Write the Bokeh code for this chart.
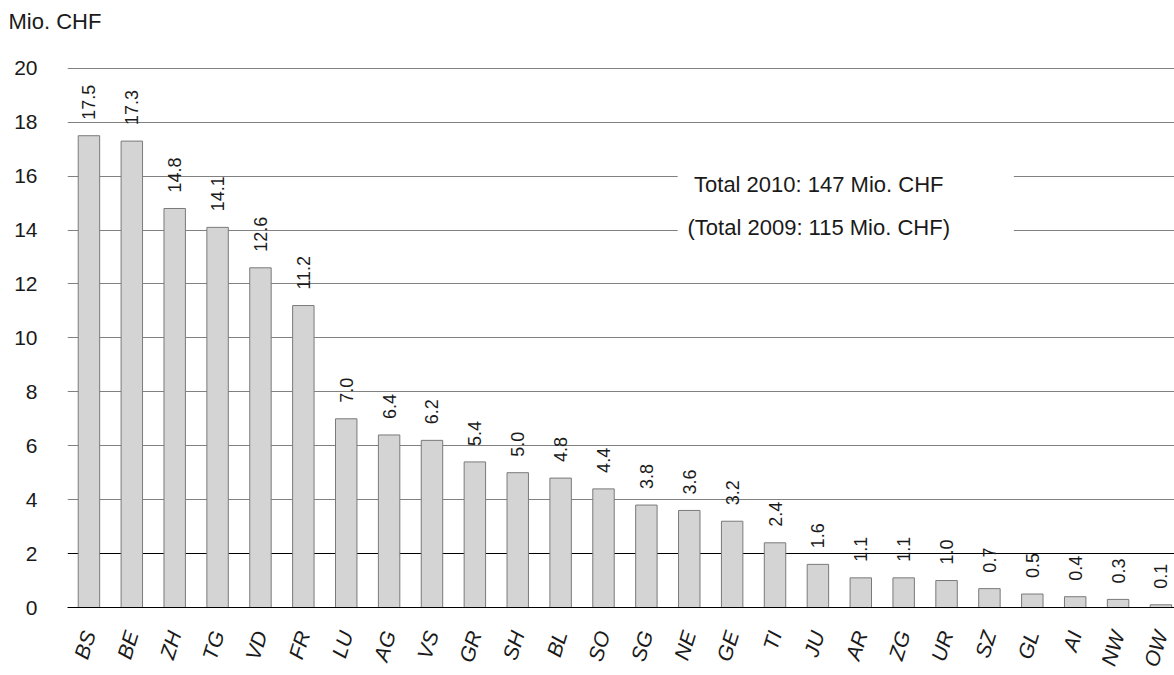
import math
from bokeh.plotting import figure
from bokeh.models import (ColumnDataSource, Range1d, FixedTicker, Grid, Label,
                          BoxAnnotation, LabelSet, Title)
from bokeh.core.properties import value
from bokeh.embed import file_html
from bokeh.resources import INLINE

cantons = ["BS", "BE", "ZH", "TG", "VD", "FR", "LU", "AG", "VS", "GR", "SH", "BL", "SO",
           "SG", "NE", "GE", "TI", "JU", "AR", "ZG", "UR", "SZ", "GL", "AI", "NW", "OW"]
values = [17.5, 17.3, 14.8, 14.1, 12.6, 11.2, 7.0, 6.4, 6.2, 5.4, 5.0, 4.8, 4.4,
          3.8, 3.6, 3.2, 2.4, 1.6, 1.1, 1.1, 1.0, 0.7, 0.5, 0.4, 0.3, 0.1]
y_ticks = [0, 2, 4, 6, 8, 10, 12, 14, 16, 18, 20]
unit_label = "Mio. CHF"
note_lines = ["Total 2010: 147 Mio. CHF", "(Total 2009: 115 Mio. CHF)"]

FONT = "Liberation Sans"
TXT = "#1a1a1a"

xs = list(range(len(cantons)))
src = ColumnDataSource(dict(x=xs, top=values, label=[f"{v:.1f}" for v in values]))

p = figure(width=1174, height=675, output_backend="svg", toolbar_location=None,
           x_range=Range1d(-0.5, 25.316), y_range=Range1d(0, 20.03),
           min_border_left=67, min_border_right=0, min_border_top=67,
           min_border_bottom=67)
p.outline_line_color = None
p.background_fill_color = "white"
p.border_fill_color = "white"

# unit label as (outermost) title; a blank spacer title sits between it and the frame
p.title.text = unit_label
p.title.align = "left"
p.title.offset = -59
p.title.text_font = FONT
p.title.text_font_style = "normal"
p.title.text_font_size = "22px"
p.title.text_color = TXT
p.add_layout(Title(text=" ", text_font_size="16px"), "above")

# grids
p.xgrid.visible = False
p.ygrid.ticker = FixedTicker(ticks=[t for t in y_ticks if t >= 4])
p.ygrid.grid_line_color = "#808080"
p.ygrid.grid_line_width = 1
g2 = Grid(dimension=1, ticker=FixedTicker(ticks=[2]), grid_line_color="black",
          grid_line_width=1)
p.add_layout(g2)

# y axis
p.yaxis.ticker = FixedTicker(ticks=y_ticks)
p.yaxis.axis_line_color = None
p.yaxis.major_tick_line_color = None
p.yaxis.minor_tick_line_color = None
p.yaxis.major_tick_in = 0
p.yaxis.major_tick_out = 0
p.yaxis.major_label_standoff = 30
p.yaxis.major_label_text_font = FONT
p.yaxis.major_label_text_font_size = "21px"
p.yaxis.major_label_text_color = TXT

# x axis
p.xaxis.ticker = FixedTicker(ticks=xs)
p.xaxis.major_label_overrides = {i: c for i, c in enumerate(cantons)}
p.xaxis.axis_line_color = "black"
p.xaxis.axis_line_width = 1
p.xaxis.major_tick_line_color = None
p.xaxis.minor_tick_line_color = None
p.xaxis.major_tick_in = 0
p.xaxis.major_tick_out = 0
p.xaxis.major_label_standoff = 24
p.xaxis.major_label_orientation = 1.27
p.xaxis.major_label_text_font = FONT
p.xaxis.major_label_text_font_style = "italic"
p.xaxis.major_label_text_font_size = "21px"
p.xaxis.major_label_text_color = TXT

# bars
p.vbar(x="x", top="top", bottom=0, width=0.5, source=src,
       fill_color="#d4d4d4", line_color="#7a7a7a", line_width=1)

# value labels
labels = LabelSet(x="x", y="top", text="label", source=src, angle=math.pi / 2,
                  text_align="left", text_baseline="middle", y_offset=16,
                  text_font=value(FONT), text_font_size=value("18px"),
                  text_color=value(TXT))
p.add_layout(labels)

# note box
box = BoxAnnotation(left=13.73, right=21.57, bottom=13.3, top=16.5,
                    fill_color="white", fill_alpha=1.0, line_color=None)
p.add_layout(box)
p.add_layout(Label(x=17.02, y=15.7, text=note_lines[0], text_align="center",
                   text_baseline="middle", text_font=FONT, text_font_size="22px",
                   text_color=TXT))
p.add_layout(Label(x=17.02, y=14.1, text=note_lines[1], text_align="center",
                   text_baseline="middle", text_font=FONT, text_font_size="22px",
                   text_color=TXT))

open("out.html", "w").write(file_html(p, INLINE))
